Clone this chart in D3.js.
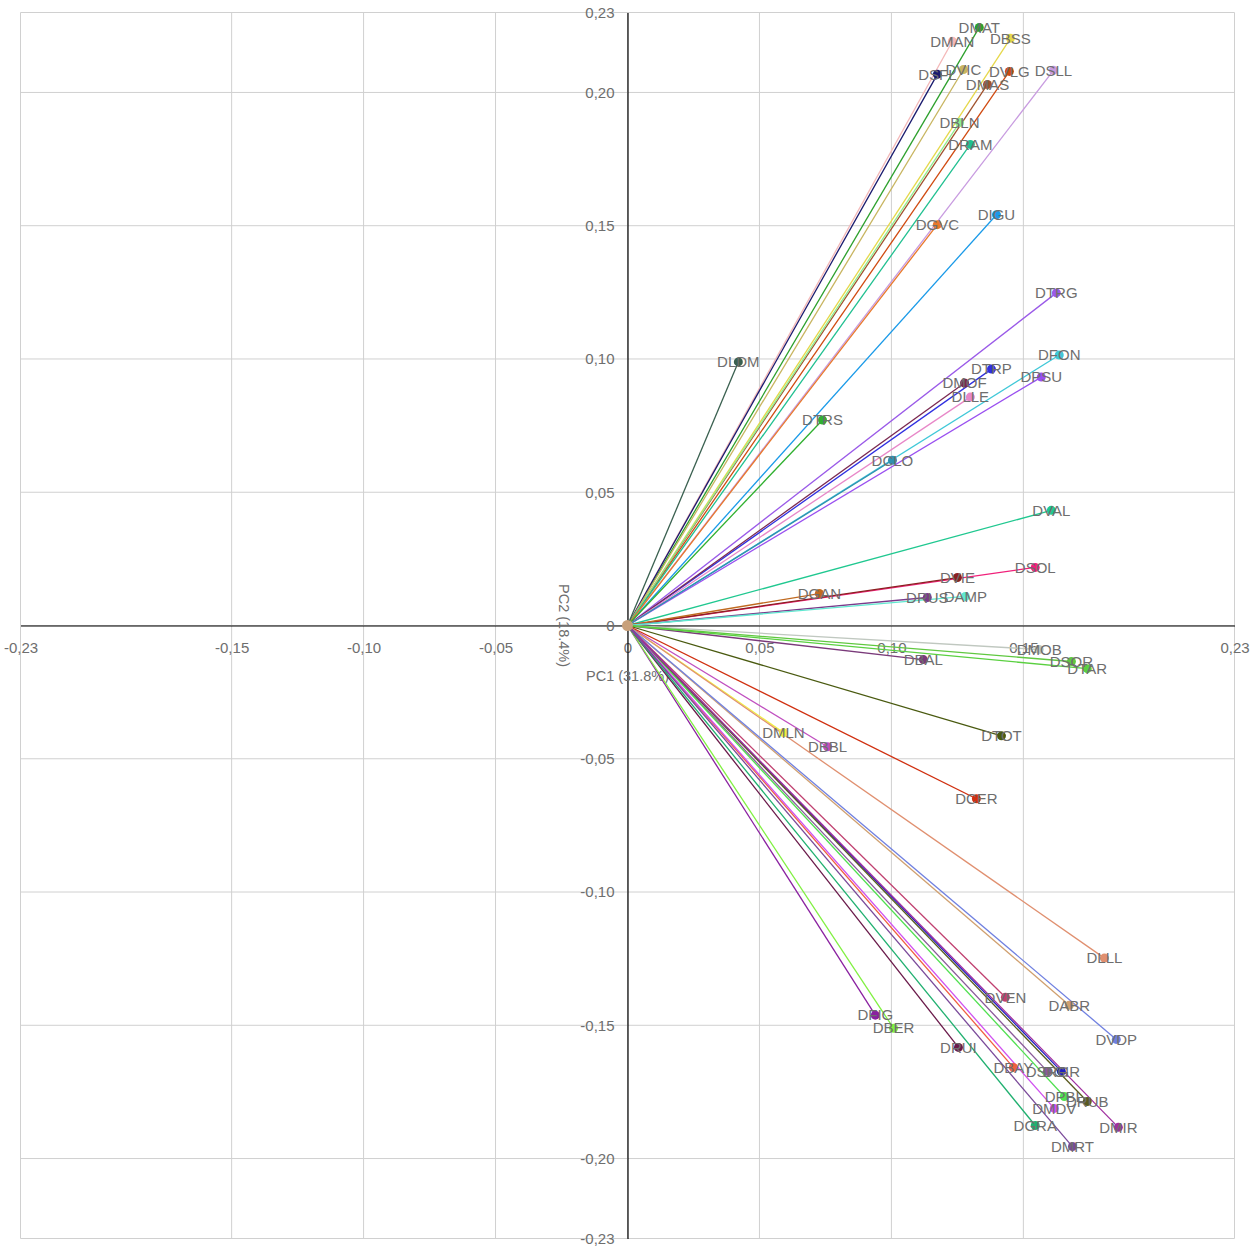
<!doctype html>
<html lang="en">
<head>
  <meta charset="utf-8">
  <title>PCA biplot</title>
  <script src="https://d3js.org/d3.v7.min.js"></script>
  <style>
    body { margin: 0; background: #fff; }
    text { font-family: "Liberation Sans", Arial, sans-serif; }
  </style>
</head>
<body>
<svg id="chart" width="1253" height="1252"></svg>
<script>
// variable names and loadings
var names = ["DMAT","DMAN","DBSS","DSFL","DVIC","DVLG","DSLL","DMAS","DBLN","DRAM",
             "DIGU","DGVC","DTRG","DFON","DLDM","DTRP","DPSU","DMOF","DLLE","DTRS",
             "DCLO","DVAL","DSOL","DVIE","DGAN","DRUS","DAMP","DMOB","DBAL","DSOR",
             "DTAR","DTOT","DMLN","DBBL","DCER","DLLL","DVEN","DABR","DVDP","DFIG",
             "DBER","DRUI","DBAY","DSRG","DGIR","DPBL","DRUB","DMDV","DGRA","DMIR","DMRT"];
var pc1 = [0.1333,0.1231,0.1451,0.1174,0.1273,0.1447,0.1614,0.1364,0.1258,0.1299,
           0.1398,0.1174,0.1625,0.1636,0.0420,0.1379,0.1568,0.1277,0.1299,0.0739,
           0.1004,0.1606,0.1545,0.1250,0.0727,0.1136,0.1280,0.1560,0.1121,0.1682,
           0.1742,0.1417,0.0591,0.0758,0.1322,0.1807,0.1432,0.1674,0.1852,0.0939,
           0.1008,0.1254,0.1462,0.1591,0.1644,0.1655,0.1742,0.1617,0.1545,0.1860,0.1686];
var pc2 = [0.2244,0.2192,0.2203,0.2068,0.2086,0.2079,0.2083,0.2030,0.1887,0.1805,
           0.1541,0.1504,0.1248,0.1015,0.0989,0.0962,0.0932,0.0910,0.0857,0.0771,
           0.0620,0.0432,0.0218,0.0180,0.0120,0.0105,0.0109,-0.0090,-0.0128,-0.0135,
           -0.0162,-0.0414,-0.0402,-0.0455,-0.0650,-0.1248,-0.1395,-0.1425,-0.1553,-0.1462,
           -0.1511,-0.1583,-0.1658,-0.1673,-0.1673,-0.1767,-0.1786,-0.1812,-0.1876,-0.1883,-0.1955];
var xTicks = [-0.23,-0.15,-0.10,-0.05,0,0.05,0.10,0.15,0.23];
var yTicks = [-0.23,-0.20,-0.15,-0.10,-0.05,0,0.05,0.10,0.15,0.20,0.23];
var xTitle = "PC1 (31.8%)";
var yTitle = "PC2 (18.4%)";

var colors = ["#2ca02c","#f4b8b8","#e6d84a","#1a1a6e","#c8b560","#d04a10","#c89be0","#a0522d","#90ee90","#20c090",
              "#1a9ae8","#e8782a","#9a5ae8","#40c8d8","#3a6050","#3030e0","#9a50f0","#7a2850","#e888c8","#30b030",
              "#3090b0","#20c890","#f0207a","#8b2020","#c06a20","#7a3a8a","#60e8d0","#c0c8c0","#7a3a7a","#60c840",
              "#5ad040","#4a5a10","#f0f040","#c050c0","#d03010","#e09070","#c04070","#d0a070","#7080e0","#8a20a0",
              "#80f040","#6a1a4a","#f06040","#8a5a9a","#2020c0","#50e050","#5a5a20","#d050f0","#20b070","#a030a0","#7a4a9a"];

var svg = d3.select("#chart");
var x = d3.scaleLinear().domain([-0.23, 0.23]).range([20.5, 1234.5]);
var y = d3.scaleLinear().domain([-0.23, 0.23]).range([1238.5, 12.5]);
var fmt = function(v) {
  if (v === 0) return "0";
  return (v < 0 ? "-" : "") + Math.abs(v).toFixed(2).replace(".", ",");
};

// grid
svg.append("g").selectAll("line").data(xTicks).enter().append("line")
  .attr("x1", d => x(d)).attr("x2", d => x(d))
  .attr("y1", y(0.23)).attr("y2", y(-0.23))
  .attr("stroke", "#d0d0d0").attr("stroke-width", 1);
svg.append("g").selectAll("line").data(yTicks).enter().append("line")
  .attr("y1", d => y(d)).attr("y2", d => y(d))
  .attr("x1", x(-0.23)).attr("x2", x(0.23))
  .attr("stroke", "#d0d0d0").attr("stroke-width", 1);

// axes through the origin
var xAxis = d3.axisBottom(x).tickValues(xTicks).tickFormat(fmt).tickSize(0).tickPadding(17);
var yAxis = d3.axisLeft(y).tickValues(yTicks).tickFormat(fmt).tickSize(0).tickPadding(13);
var gx = svg.append("g").attr("transform", "translate(0," + y(0) + ")").call(xAxis);
var gy = svg.append("g").attr("transform", "translate(" + x(0) + ",0)").call(yAxis);
[gx, gy].forEach(function(g) {
  g.select(".domain").attr("stroke", "#000").attr("stroke-width", 1.2);
  g.selectAll("text").attr("fill", "#6e6e6e").style("font-size", "15px")
    .style("font-family", "'Liberation Sans', Arial, sans-serif");
});

svg.append("text").attr("x", x(0)).attr("y", y(0) + 55)
  .attr("text-anchor", "middle").attr("fill", "#6e6e6e").style("font-size", "14.5px")
  .text(xTitle);
svg.append("text")
  .attr("transform", "translate(" + (x(0) - 69) + "," + y(0) + ") rotate(90)")
  .attr("text-anchor", "middle").attr("fill", "#6e6e6e").style("font-size", "14.5px")
  .text(yTitle);

var idx = d3.range(names.length);

// vectors
svg.append("g").selectAll("line").data(idx).enter().append("line")
  .attr("x1", x(0)).attr("y1", y(0))
  .attr("x2", i => x(pc1[i])).attr("y2", i => y(pc2[i]))
  .attr("stroke", i => colors[i]).attr("stroke-width", 1.3);

// points
svg.append("g").selectAll("circle").data(idx).enter().append("circle")
  .attr("cx", i => x(pc1[i])).attr("cy", i => y(pc2[i])).attr("r", 4.5)
  .attr("fill", i => colors[i]);
svg.append("circle").attr("cx", x(0)).attr("cy", y(0)).attr("r", 5.5).attr("fill", "#c8a07a");

// labels
svg.append("g").selectAll("text").data(idx).enter().append("text")
  .attr("x", i => x(pc1[i])).attr("y", i => y(pc2[i]))
  .attr("text-anchor", "middle").attr("dy", "0.35em")
  .attr("fill", "#6e6e6e").style("font-size", "15px")
  .text(i => names[i]);
</script>
</body>
</html>
